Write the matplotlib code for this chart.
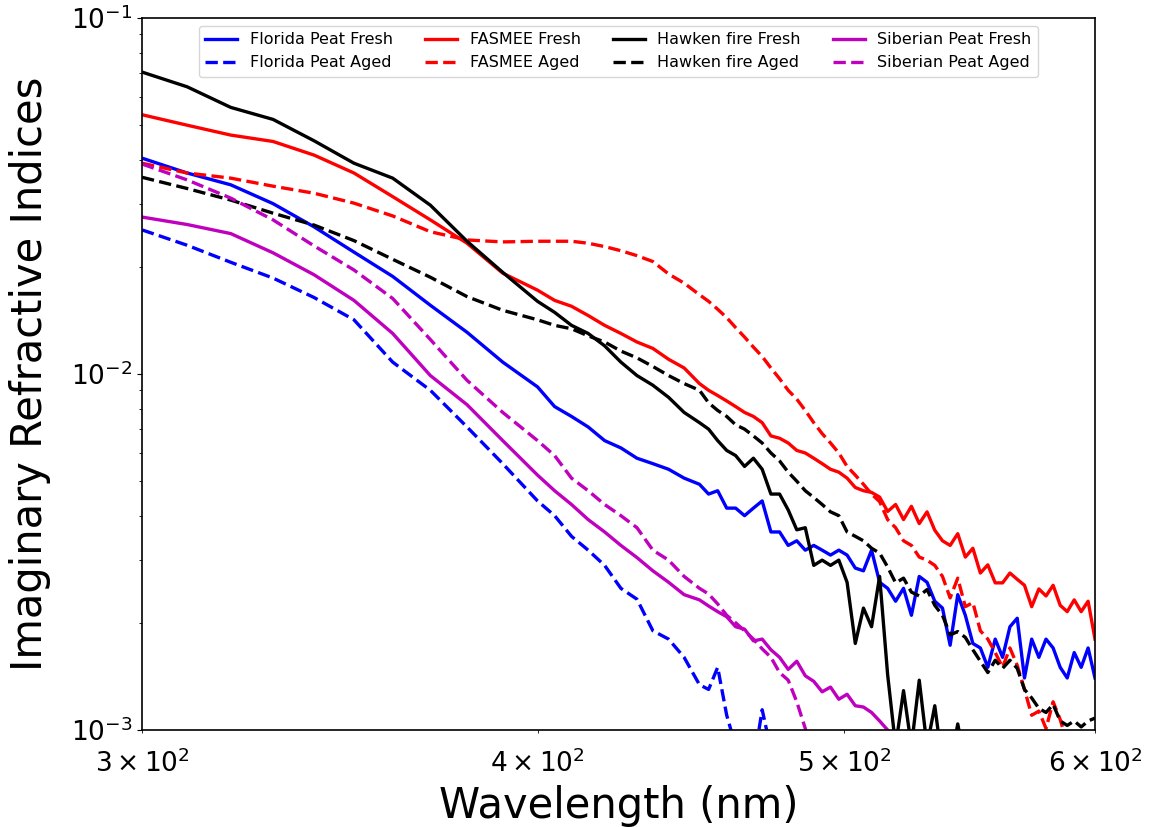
import numpy as np
import matplotlib
matplotlib.use("Agg")
import matplotlib.pyplot as plt

# =========================
# DATA
# =========================

wavelength = [300, 310, 320, 330, 340, 350, 360, 370, 380, 390, 400,
              405, 410, 415, 420, 425, 430, 435, 440, 445, 450,
              453, 456, 459, 462, 465, 468, 471, 474, 477, 480,
              483, 486, 489, 492, 495, 498, 501, 504, 507, 510,
              513, 516, 519, 522, 525, 528, 531, 534, 537, 540,
              543, 546, 549, 552, 555, 558, 561, 564, 567, 570,
              573, 576, 579, 582, 585, 588, 591, 594, 597, 600]

florida_fresh = [0.0404, 0.0367, 0.0340, 0.0301, 0.0259, 0.0220, 0.0188, 0.0156, 0.0131, 0.0108, 0.0092,
                 0.0081, 0.0076, 0.0071, 0.0065, 0.0062, 0.0058, 0.0056, 0.0054, 0.0051, 0.0049,
                 0.0046, 0.0047, 0.0042, 0.0042, 0.0040, 0.0042, 0.0044, 0.0036, 0.0036, 0.0033,
                 0.0034, 0.0032, 0.0033, 0.0032, 0.0031, 0.0032, 0.0031, 0.00285, 0.0028, 0.0032,
                 0.0026, 0.0025, 0.0023, 0.0025, 0.0021, 0.0027, 0.0026, 0.0023, 0.0022, 0.00173,
                 0.0024, 0.0021, 0.00175, 0.0017, 0.0015, 0.0018, 0.0016, 0.00195, 0.00206, 0.0014,
                 0.0018, 0.0016, 0.0018, 0.0017, 0.0015, 0.0014, 0.00165, 0.0015, 0.0017, 0.0014]

florida_aged = [0.0254, 0.0230, 0.0206, 0.0186, 0.0164, 0.0142, 0.0108, 0.0090, 0.0071, 0.0056, 0.0044,
                0.0040, 0.0035, 0.0032, 0.0029, 0.0025, 0.00233, 0.0019, 0.0018, 0.0016, 0.00134,
                0.0013, 0.0015, 0.0011, 0.0009, 0.0008, 0.0008, 0.00114, 0.00088, 0.0007, 0.0007,
                0.0007, 0.0007, 0.0007, 0.0007, 0.0007, 0.0007, 0.0007, 0.0007, 0.0007, 0.0007,
                0.0007, 0.0007, 0.0007, 0.0007, 0.0007, 0.0007, 0.0007, 0.0007, 0.0007, 0.0007,
                0.0007, 0.0007, 0.0007, 0.0007, 0.0007, 0.0007, 0.0007, 0.0007, 0.0007, 0.0007,
                0.0007, 0.0007, 0.0007, 0.0007, 0.0007, 0.0007, 0.0007, 0.0007, 0.0007, 0.0007]

fasmee_fresh = [0.0535, 0.0500, 0.0469, 0.0450, 0.0412, 0.0367, 0.0315, 0.0271, 0.0233, 0.0192, 0.0172,
                0.0161, 0.0155, 0.0146, 0.0137, 0.0130, 0.0123, 0.0118, 0.0110, 0.0104, 0.0094,
                0.0090, 0.0087, 0.0084, 0.0081, 0.0078, 0.0076, 0.0073, 0.0067, 0.0066, 0.0064,
                0.0061, 0.0060, 0.0058, 0.0056, 0.0054, 0.0053, 0.0051, 0.0048, 0.0047, 0.00465,
                0.00451, 0.00411, 0.0043, 0.0039, 0.00425, 0.0038, 0.0041, 0.00364, 0.0034, 0.0033,
                0.00356, 0.00306, 0.00324, 0.00276, 0.00291, 0.00259, 0.00259, 0.00276, 0.00265, 0.00255,
                0.00222, 0.00249, 0.00238, 0.00255, 0.00224, 0.00215, 0.00232, 0.00215, 0.00230, 0.0018]

fasmee_aged = [0.0391, 0.0367, 0.0355, 0.0337, 0.0322, 0.0302, 0.0278, 0.0251, 0.0238, 0.0235, 0.0236,
               0.0236, 0.0236, 0.0233, 0.0228, 0.0222, 0.0215, 0.0207, 0.0191, 0.0180, 0.0167,
               0.0160, 0.0152, 0.0144, 0.0135, 0.0127, 0.0119, 0.0112, 0.0104, 0.0097, 0.0090,
               0.0085, 0.0079, 0.0073, 0.0068, 0.0064, 0.0060, 0.0055, 0.0052, 0.0049, 0.0046,
               0.00438, 0.0039, 0.0037, 0.0034, 0.0033, 0.00306, 0.0030, 0.0029, 0.0027, 0.00235,
               0.00267, 0.00222, 0.00228, 0.0019, 0.0018, 0.00165, 0.0015, 0.0017, 0.00152, 0.0013,
               0.0011, 0.00113, 0.00101, 0.0012, 0.00107, 0.00092, 0.0008, 0.0008, 0.0008, 0.0008]

hawken_fresh = [0.0705, 0.0641, 0.0561, 0.0519, 0.0452, 0.0391, 0.0355, 0.0298, 0.0236, 0.0193, 0.0160,
                0.0149, 0.0137, 0.0130, 0.0120, 0.0108, 0.0099, 0.0093, 0.0086, 0.0078, 0.0073,
                0.0070, 0.0065, 0.0061, 0.0059, 0.0055, 0.0058, 0.0054, 0.0046, 0.0046, 0.00415,
                0.00365, 0.0037, 0.0029, 0.0030, 0.0029, 0.0030, 0.0026, 0.00175, 0.0022, 0.00195,
                0.0027, 0.00143, 0.0009, 0.00129, 0.0009, 0.00138, 0.0009, 0.00117, 0.0008, 0.0008,
                0.00104, 0.0008, 0.0008, 0.0008, 0.0008, 0.0008, 0.0008, 0.0008, 0.0008, 0.0008,
                0.0008, 0.0008, 0.0008, 0.0008, 0.0008, 0.0008, 0.0008, 0.0008, 0.0008, 0.0008]

hawken_aged = [0.0357, 0.0332, 0.0308, 0.0283, 0.0262, 0.0237, 0.0210, 0.0187, 0.0165, 0.0151, 0.0142,
               0.0137, 0.0134, 0.0128, 0.0123, 0.0116, 0.0111, 0.0105, 0.0099, 0.0094, 0.0090,
               0.0083, 0.0079, 0.0076, 0.0072, 0.0070, 0.0067, 0.0064, 0.0060, 0.0057, 0.0053,
               0.0050, 0.0047, 0.0045, 0.0043, 0.0041, 0.0040, 0.0036, 0.0035, 0.0034, 0.00324,
               0.00314, 0.00287, 0.00259, 0.00267, 0.00244, 0.00238, 0.00248, 0.00224, 0.00210, 0.00185,
               0.00189, 0.00182, 0.00168, 0.00156, 0.00145, 0.00157, 0.00149, 0.00157, 0.00149, 0.00130,
               0.00123, 0.00115, 0.00112, 0.00118, 0.00106, 0.00103, 0.00106, 0.00102, 0.00106, 0.00108]

siberian_fresh = [0.0276, 0.0263, 0.0248, 0.0219, 0.0190, 0.0161, 0.0130, 0.0099, 0.0082, 0.0065, 0.0052,
                  0.0047, 0.0043, 0.0039, 0.0036, 0.0033, 0.00305, 0.0028, 0.0026, 0.0024, 0.00232,
                  0.00223, 0.00215, 0.00208, 0.00195, 0.00192, 0.00178, 0.00180, 0.00168, 0.00160, 0.00148,
                  0.00156, 0.00142, 0.00137, 0.00128, 0.00132, 0.00122, 0.00126, 0.00117, 0.00116, 0.00112,
                  0.00106, 0.0010, 0.0009, 0.0008, 0.0007, 0.0007, 0.0007, 0.0007, 0.0007, 0.0007,
                  0.0007, 0.0007, 0.0007, 0.0007, 0.0007, 0.0007, 0.0007, 0.0007, 0.0007, 0.0007,
                  0.0007, 0.0007, 0.0007, 0.0007, 0.0007, 0.0007, 0.0007, 0.0007, 0.0007, 0.0007]

siberian_aged = [0.0389, 0.0351, 0.0312, 0.0271, 0.0229, 0.0196, 0.0163, 0.0125, 0.0096, 0.0078, 0.0065,
                 0.0059, 0.0051, 0.0047, 0.0043, 0.0040, 0.0037, 0.0032, 0.0030, 0.0027, 0.0025,
                 0.00241, 0.00226, 0.0021, 0.0020, 0.0019, 0.0018, 0.00169, 0.0016, 0.00145, 0.00138,
                 0.0012, 0.00101, 0.0008, 0.0007, 0.0007, 0.0007, 0.0007, 0.0007, 0.0007, 0.0007,
                 0.0007, 0.0007, 0.0007, 0.0007, 0.0007, 0.0007, 0.0007, 0.0007, 0.0007, 0.0007,
                 0.0007, 0.0007, 0.0007, 0.0007, 0.0007, 0.0007, 0.0007, 0.0007, 0.0007, 0.0007,
                 0.0007, 0.0007, 0.0007, 0.0007, 0.0007, 0.0007, 0.0007, 0.0007, 0.0007, 0.0007]

series = [
    ("Florida Peat Fresh", florida_fresh, "b", "-"),
    ("Florida Peat Aged", florida_aged, "b", "--"),
    ("FASMEE Fresh", fasmee_fresh, "r", "-"),
    ("FASMEE Aged", fasmee_aged, "r", "--"),
    ("Hawken fire Fresh", hawken_fresh, "k", "-"),
    ("Hawken fire Aged", hawken_aged, "k", "--"),
    ("Siberian Peat Fresh", siberian_fresh, "m", "-"),
    ("Siberian Peat Aged", siberian_aged, "m", "--"),
]

# =========================
# PLOT
# =========================

fig = plt.figure(figsize=(11.49, 8.27), dpi=100)
ax = fig.add_axes([0.1236, 0.1173, 0.8294, 0.8609])

for label, vals, col, ls in series:
    ax.plot(wavelength, vals, color=col, linestyle=ls, linewidth=2.4, label=label)

ax.set_xscale("log")
ax.set_yscale("log")
ax.set_xlim(300, 600)
ax.set_ylim(1e-3, 1e-1)

ax.set_xlabel("Wavelength (nm)", fontsize=30, labelpad=5)
ax.set_ylabel("Imaginary Refractive Indices", fontsize=30, labelpad=14)
ax.tick_params(axis="both", which="both", labelsize=19)
ax.tick_params(axis="x", which="both", pad=12)
for sp in ax.spines.values():
    sp.set_linewidth(1.2)

ax.legend(loc="upper center", ncol=4, fontsize=11.5)

fig.savefig("out.png", dpi=100)
